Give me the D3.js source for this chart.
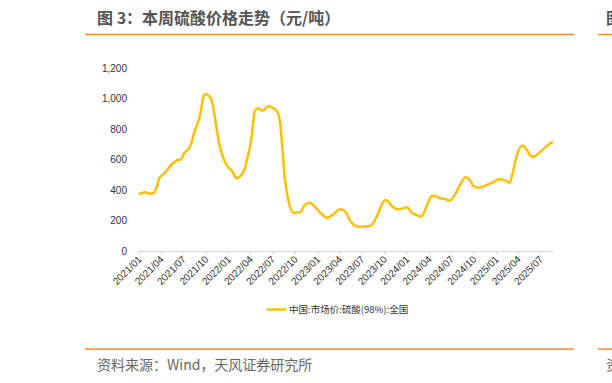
<!DOCTYPE html>
<html>
<head>
<meta charset="utf-8">
<script src="https://cdn.jsdelivr.net/npm/d3@7"></script>
<style>
  html, body { margin: 0; padding: 0; background: #fff; }
  svg { display: block; font-family: "Liberation Sans", "Noto Sans CJK SC", sans-serif; }
</style>
</head>
<body>
<div id="chart"></div>
<script>
// sulfuric acid (98%) national market price, yuan/ton
const dates = [
  '2021-01-01','2021-01-25','2021-02-15','2021-03-01','2021-03-13','2021-03-25','2021-04-15','2021-05-13',
  '2021-06-03','2021-06-22','2021-07-04','2021-07-28','2021-08-16','2021-09-10','2021-09-20','2021-10-01',
  '2021-10-25','2021-11-07','2021-11-25','2021-12-10','2022-01-01','2022-01-16','2022-02-04','2022-02-24',
  '2022-03-10','2022-03-22','2022-04-07','2022-04-19','2022-05-02','2022-05-22','2022-06-15','2022-07-04',
  '2022-07-16','2022-08-01','2022-08-10','2022-08-20','2022-09-04','2022-09-25','2022-10-22','2022-11-10',
  '2022-12-01','2022-12-22','2023-01-14','2023-02-09','2023-03-04','2023-04-04','2023-04-22','2023-05-13',
  '2023-06-04','2023-06-22','2023-08-04','2023-08-16','2023-09-07','2023-09-25','2023-10-10','2023-11-01',
  '2023-11-28','2023-12-19','2024-01-04','2024-01-22','2024-02-04','2024-03-01','2024-03-22','2024-04-13',
  '2024-04-25','2024-05-16','2024-06-07','2024-06-25','2024-07-16','2024-08-07','2024-08-28','2024-09-10',
  '2024-10-01','2024-10-22','2024-11-10','2024-11-25','2024-12-22','2025-01-13','2025-02-10','2025-02-25',
  '2025-03-10','2025-03-22','2025-04-01','2025-04-19','2025-05-07','2025-05-28','2025-06-10','2025-07-01',
  '2025-07-28','2025-08-22'
];
const prices = [
  372, 385, 376, 378, 411, 477, 510, 564,
  592, 601, 640, 680, 782, 903, 1001, 1030,
  990, 881, 706, 618, 549, 527, 477, 498,
  542, 618, 750, 913, 936, 920, 951, 936,
  925, 848, 684, 487, 334, 251, 254, 302,
  317, 290, 250, 218, 236, 273, 264, 203,
  166, 159, 164, 182, 247, 317, 334, 295,
  273, 280, 287, 251, 241, 225, 290, 361,
  363, 346, 341, 330, 367, 433, 483, 477,
  426, 415, 422, 433, 454, 470, 461, 448,
  510, 597, 651, 690, 662, 618, 623, 651,
  689, 717
];
const xTicks = ['2021/01','2021/04','2021/07','2021/10','2022/01','2022/04','2022/07','2022/10','2023/01',
  '2023/04','2023/07','2023/10','2024/01','2024/04','2024/07','2024/10','2025/01','2025/04','2025/07'];
const yTicks = [0, 200, 400, 600, 800, 1000, 1200];

const titleText = '图 3：本周硫酸价格走势（元/吨）';
const sourceText = '资料来源：Wind，天风证券研究所';
const seriesName = '中国:市场价:硫酸(98%):全国';

const W = 612, H = 383;
const parse = d3.timeParse('%Y-%m-%d');
const parseTick = d3.timeParse('%Y/%m');
const data = dates.map((d, i) => ({ date: parse(d), value: prices[i] }));

const svg = d3.select('#chart').append('svg')
  .attr('width', W)
  .attr('height', H);

// header / footer
const orange = '#f0883a';
svg.append('text')
  .attr('x', 97).attr('y', 24)
  .attr('font-family', '"Noto Sans CJK SC", sans-serif')
  .attr('font-size', 16).attr('font-weight', 'bold')
  .attr('fill', '#555').text(titleText);
svg.append('text')
  .attr('x', 606).attr('y', 24)
  .attr('font-family', '"Noto Sans CJK SC", sans-serif')
  .attr('font-size', 16).attr('font-weight', 'bold')
  .attr('fill', '#555').text('图');
[[85, 574], [598, 612]].forEach(([a, b]) => {
  svg.append('line').attr('x1', a).attr('x2', b).attr('y1', 34.5).attr('y2', 34.5)
    .attr('stroke', orange).attr('stroke-width', 1.5);
  svg.append('line').attr('x1', a).attr('x2', b).attr('y1', 349).attr('y2', 349)
    .attr('stroke', orange).attr('stroke-width', 1.5);
});
svg.append('text')
  .attr('x', 97).attr('y', 370)
  .attr('font-family', '"Noto Sans CJK SC", sans-serif')
  .attr('font-size', 14).attr('fill', '#666').text(sourceText);
svg.append('text')
  .attr('x', 606).attr('y', 370)
  .attr('font-family', '"Noto Sans CJK SC", sans-serif')
  .attr('font-size', 14).attr('fill', '#666').text('资');

// scales
const x = d3.scaleTime()
  .domain([parse('2021-01-01'), parse('2025-08-22')])
  .range([139, 553]);
const y = d3.scaleLinear()
  .domain([0, 1200])
  .range([251, 68]);

// y axis (labels only)
const yAxis = svg.append('g')
  .attr('transform', 'translate(130,0)')
  .call(d3.axisLeft(y).tickValues(yTicks).tickFormat(d3.format(',')).tickSize(0).tickPadding(3));
yAxis.select('.domain').remove();
yAxis.selectAll('text').attr('font-size', 10).attr('fill', '#333');

// x axis
const xAxis = svg.append('g')
  .attr('transform', 'translate(0,251)')
  .call(d3.axisBottom(x)
    .tickValues(xTicks.map(parseTick))
    .tickFormat(d3.timeFormat('%Y/%m'))
    .tickSizeInner(4).tickSizeOuter(0));
xAxis.select('.domain').attr('stroke', '#d9d9d9');
xAxis.selectAll('.tick line').attr('stroke', '#d9d9d9');
xAxis.selectAll('text')
  .attr('font-size', 10).attr('fill', '#333')
  .attr('text-anchor', 'end')
  .attr('dy', null).attr('y', 0)
  .attr('transform', 'translate(3,9) rotate(-45)');

// series line
const line = d3.line()
  .x(d => x(d.date))
  .y(d => y(d.value))
  .curve(d3.curveMonotoneX);
svg.append('path')
  .datum(data)
  .attr('fill', 'none')
  .attr('stroke', '#ffc000')
  .attr('stroke-width', 2.5)
  .attr('stroke-linejoin', 'round')
  .attr('d', line);

// legend
svg.append('line')
  .attr('x1', 266.5).attr('x2', 286.5).attr('y1', 309.5).attr('y2', 309.5)
  .attr('stroke', '#ffc000').attr('stroke-width', 2.5);
svg.append('text')
  .attr('x', 289).attr('y', 313)
  .attr('font-family', '"Noto Sans CJK SC", sans-serif')
  .attr('font-size', 9.5).attr('fill', '#333')
  .text(seriesName);
</script>
</body>
</html>
